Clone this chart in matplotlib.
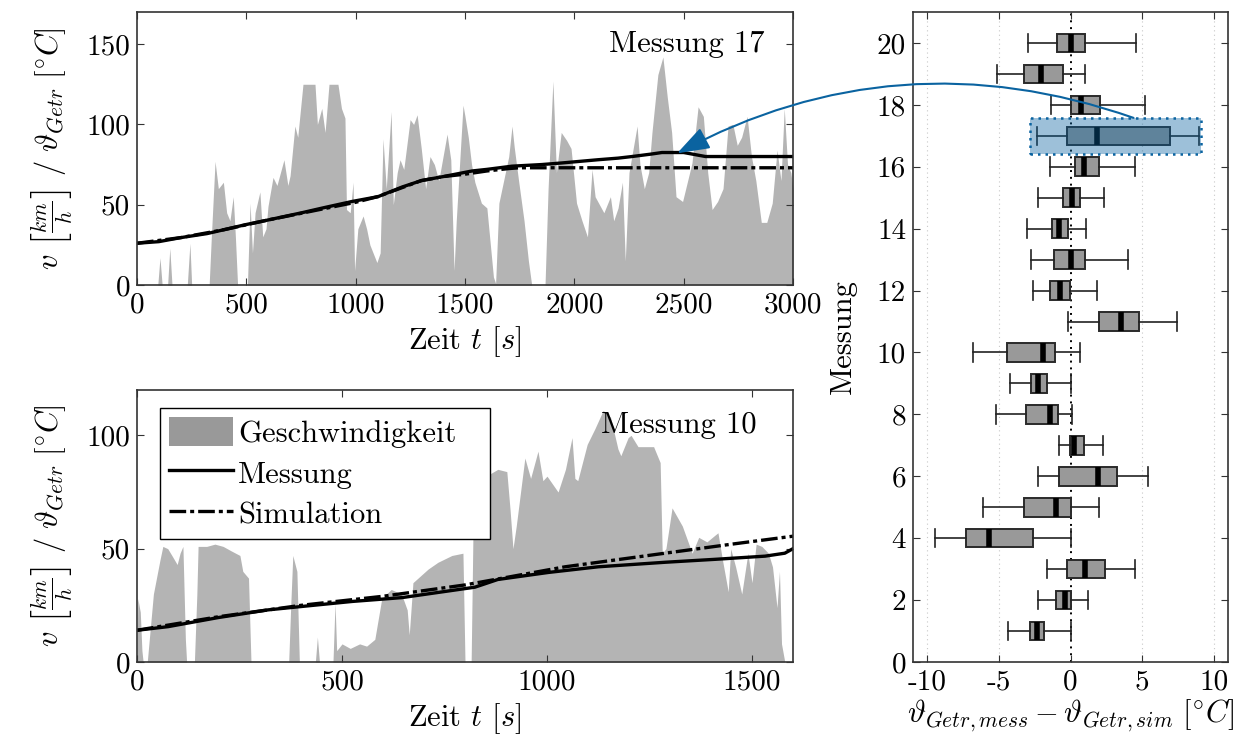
import matplotlib
matplotlib.use("Agg")
import matplotlib.pyplot as plt
from matplotlib.patches import Patch, Rectangle, ConnectionPatch
from matplotlib.lines import Line2D

plt.rcParams["font.family"] = "serif"
plt.rcParams["font.serif"] = ["cmr10"]
plt.rcParams["mathtext.fontset"] = "cm"
plt.rcParams["axes.unicode_minus"] = False
plt.rcParams["font.size"] = 21

# Messung 17: speed profile (km/h) and gearbox temperature
m17_time = [0, 95, 105, 115, 140, 150, 160, 230, 242, 250, 330, 340, 357, 372, 395, 410,
            425, 440, 450, 460, 505, 517, 528, 540, 562, 575, 590, 599, 622, 640, 672, 690,
            700, 722, 735, 759, 814, 825, 845, 860, 878, 919, 935, 951, 958, 975, 988, 995,
            1010, 1034, 1050, 1065, 1097, 1112, 1125, 1140, 1162, 1172, 1190, 1203, 1220,
            1249, 1265, 1281, 1300, 1320, 1340, 1360, 1380, 1418, 1435, 1450, 1460, 1491,
            1500, 1515, 1530, 1545, 1575, 1600, 1630, 1640, 1655, 1700, 1715, 1725, 1745,
            1770, 1790, 1805, 1866, 1880, 1902, 1918, 1940, 1965, 1985, 2010, 2035, 2060,
            2081, 2095, 2115, 2135, 2165, 2180, 2200, 2220, 2233, 2250, 2287, 2300, 2320,
            2340, 2355, 2382, 2405, 2425, 2445, 2465, 2495, 2538, 2566, 2590, 2610, 2630,
            2655, 2680, 2703, 2725, 2745, 2765, 2790, 2810, 2830, 2855, 2880, 2905, 2927,
            2945, 2960, 2975, 2990, 3000]
m17_speed = [0, 0, 17, 0, 0, 23, 0, 0, 26, 0, 0, 30, 77, 60, 64, 45,
             40, 55, 30, 0, 0, 51, 20, 45, 58, 30, 35, 49, 67, 62, 78, 62,
             68, 99, 92, 125, 125, 100, 110, 95, 125, 125, 110, 104, 47, 45, 64, 9,
             35, 43, 35, 25, 14, 20, 91, 60, 108, 50, 70, 78, 72,
             103, 100, 106, 85, 60, 80, 75, 65, 94, 78, 9, 40, 112,
             105, 92, 75, 64, 51, 48, 5, 1, 51, 80, 99, 86, 65,
             40, 15, 0, 0, 60, 127, 70, 95, 90, 85, 51, 40, 30,
             72, 55, 50, 45, 55, 40, 48, 64, 15, 70, 99, 75, 60,
             70, 95, 131, 142, 117, 95, 55, 52, 76, 111, 105, 70, 47,
             52, 60, 99, 100, 87, 92, 105, 80, 65, 39, 39, 51, 84,
             65, 110, 75, 70, 60]
m17_mess_time = [0, 100, 200, 320, 400, 494, 600, 754, 850, 983, 1102, 1212, 1300, 1400,
                 1532, 1600, 1715, 1850, 1943, 2108, 2200, 2264, 2350, 2401, 2500, 2560,
                 2600, 3000]
m17_mess_temp = [26, 27, 29.5, 32, 34.5, 37.5, 40.5, 45, 48, 52, 55, 61, 65, 67.5,
                 71, 72, 74, 75, 76, 78, 79, 80, 81.5, 82.5, 82.5, 81, 80, 80]
m17_sim_time = [0, 200, 400, 600, 800, 1000, 1100, 1200, 1300, 1400, 1500, 1600, 1700,
                1750, 3000]
m17_sim_temp = [26, 29.5, 34.5, 40.5, 46, 51.5, 55, 60, 65, 67.5, 69, 71, 72.5, 73, 73]

# Messung 10
m10_time = [0, 2, 8, 12, 15, 25, 40, 56, 63, 75, 85, 98, 105, 112, 118, 121, 140, 146,
            149, 170, 190, 210, 230, 251, 258, 272, 278, 370, 375, 380, 390, 396, 435,
            440, 445, 478, 483, 487, 500, 520, 543, 560, 580, 597, 620, 645, 659, 664,
            673, 710, 734, 768, 795, 800, 815, 820, 840, 861, 880, 902, 910, 917, 925,
            946, 960, 978, 990, 1000, 1027, 1045, 1061, 1068, 1075, 1098, 1117, 1137,
            1155, 1173, 1180, 1198, 1205, 1222, 1260, 1276, 1281, 1290, 1305, 1330, 1354,
            1370, 1390, 1410, 1417, 1428, 1442, 1448, 1460, 1475, 1490, 1500, 1510, 1524,
            1540, 1550, 1561, 1567, 1572, 1580, 1600]
m10_speed = [0, 28, 22, 5, 0, 0, 30, 45, 51, 50, 47, 43, 48, 51, 10, 0, 0, 30,
             51, 51, 52, 51, 49, 47, 40, 37, 0, 0, 25, 47, 40, 0, 0,
             11, 0, 0, 26, 5, 8, 6, 8, 7, 10, 28, 32, 30, 23, 12,
             35, 41, 44, 47, 48, 0, 0, 64, 78, 83, 85, 84, 67, 50, 60,
             90, 81, 93, 80, 82, 75, 85, 99, 81, 80, 96, 103, 111,
             108, 94, 91, 99, 100, 95, 95, 88, 48, 50, 68, 60, 48,
             55, 53, 56, 57, 45, 31, 50, 42, 30, 48, 35, 52, 51,
             48, 42, 24, 40, 8, 0, 0]
m10_mess_time = [0, 76, 198, 320, 402, 524, 646, 824, 880, 1003, 1125, 1288, 1410,
                 1532, 1580, 1600]
m10_mess_temp = [14, 15.6, 19.6, 23, 24.5, 26.7, 28.4, 33, 36.4, 39.5, 42, 44, 45.3,
                 46.7, 48, 50]
m10_sim_time = [0, 200, 400, 600, 800, 1044, 1288, 1451, 1600]
m10_sim_temp = [14, 20, 25, 29, 34, 42, 48, 52, 55.5]

# Abweichung Messung - Simulation je Messung (Boxplot-Kennwerte)
messungen = list(range(1, 21))
wlo = [-4.35, -2.29, -1.62, -9.49, -6.09, -2.29, -0.83, -5.19, -4.24, -6.8,
       -0.19, -2.59, -2.78, -3.03, -2.25, -1.41, -2.34, -1.37, -5.12, -2.94]
q1 = [-2.85, -1.02, -0.25, -7.29, -3.22, -0.81, -0.05, -3.08, -2.75, -4.42,
      1.99, -1.46, -1.16, -1.32, -0.53, 0.3, -0.21, 0.0, -3.22, -0.95]
med = [-2.34, -0.39, 1.04, -5.69, -1.0, 1.92, 0.25, -1.44, -2.27, -1.94,
       3.5, -0.72, 0.0, -0.81, 0.09, 0.95, 1.83, 0.74, -2.04, 0.0]
q3 = [-1.88, 0.02, 2.38, -2.62, 0.0, 3.22, 0.93, -0.88, -1.67, -1.11,
      4.81, -0.05, 1.0, -0.16, 0.69, 1.99, 6.97, 2.04, -0.53, 1.0]
whi = [0.0, 1.25, 4.51, 0.0, 1.99, 5.42, 2.27, 0.07, 0.0, 0.67,
       7.45, 1.85, 4.0, 1.06, 2.34, 4.49, 9.0, 5.19, 1.0, 4.6]

blue = "#0a63a0"
area_col = "#b4b4b4"
spine_col = "#333333"
sim_ls = (0, (5, 1.2, 1.2, 1.2))
lab_size = 22


def style_axes(ax):
    for s in ax.spines.values():
        s.set_color(spine_col)
        s.set_linewidth(1.2)
    ax.tick_params(direction="in", top=True, right=True, length=5,
                   color=spine_col, labelsize=21, pad=5)


def temp_plot(ax, t, v, tm, vm, ts, vs):
    ax.fill_between(t, 0, v, color=area_col, lw=0)
    ax.plot(tm, vm, color="black", lw=2.4)
    ax.plot(ts, vs, color="black", lw=2.4, linestyle=sim_ls)
    ax.set_xlabel(r"Zeit $t$ $[s]$", fontsize=lab_size, labelpad=4)
    ax.set_ylabel(r"$v\ \left[\frac{km}{h}\right]\ /\ \vartheta_{Getr}\ [^{\circ}C]$",
                  fontsize=lab_size, labelpad=8)
    style_axes(ax)


fig = plt.figure(figsize=(12.43, 7.54), dpi=100)
W, H = 1243.0, 754.0
ax1 = fig.add_axes([137 / W, 1 - 285 / H, 656 / W, 273 / H])
ax2 = fig.add_axes([137 / W, 1 - 662 / H, 656 / W, 272 / H])
ax3 = fig.add_axes([913 / W, 1 - 662 / H, 315 / W, 650 / H])

temp_plot(ax1, m17_time, m17_speed, m17_mess_time, m17_mess_temp, m17_sim_time, m17_sim_temp)
ax1.set_xlim(0, 3000)
ax1.set_ylim(0, 170)
ax1.set_xticks(range(0, 3001, 500))
ax1.set_yticks([0, 50, 100, 150])
ax1.text(0.957, 0.88, "Messung 17", transform=ax1.transAxes, ha="right", va="center",
         fontsize=lab_size)

temp_plot(ax2, m10_time, m10_speed, m10_mess_time, m10_mess_temp, m10_sim_time, m10_sim_temp)
ax2.set_xlim(0, 1600)
ax2.set_ylim(0, 120)
ax2.set_xticks([0, 500, 1000, 1500])
ax2.set_yticks([0, 50, 100])
ax2.text(0.945, 0.87, "Messung 10", transform=ax2.transAxes, ha="right", va="center",
         fontsize=lab_size)
handles = [Patch(facecolor="#999999", edgecolor="none"),
           Line2D([], [], color="black", lw=2.4),
           Line2D([], [], color="black", lw=2.4, linestyle=sim_ls)]
leg = ax2.legend(handles, ["Geschwindigkeit", "Messung", "Simulation"],
                 loc="upper left", bbox_to_anchor=(0.035, 0.0, 0.503, 0.935),
                 mode="expand", borderaxespad=0,
                 fancybox=False, framealpha=1, edgecolor="black", fontsize=lab_size,
                 handlelength=2.1, handletextpad=0.15, labelspacing=0.32, borderpad=0.3,
                 handleheight=1.1)
leg.get_frame().set_linewidth(1.0)

# Boxplots
stats = []
for i in range(len(messungen)):
    stats.append(dict(whislo=wlo[i], q1=q1[i], med=med[i], q3=q3[i], whishi=whi[i],
                      label=str(messungen[i])))
ax3.axvline(0, color="black", lw=1.4, linestyle=(0, (1, 2.5)), zorder=1)
for xg in [-10, -5, 5, 10]:
    ax3.axvline(xg, color="#c8c8c8", lw=0.8, linestyle=(0, (1, 3)), zorder=0)
ax3.bxp(stats, positions=messungen, widths=0.6, capwidths=0.6, orientation="horizontal",
        showfliers=False, patch_artist=True, manage_ticks=False,
        boxprops=dict(facecolor="#999999", edgecolor="#2a2a2a", lw=1.4),
        whiskerprops=dict(color="#222222", lw=1.2),
        capprops=dict(color="#222222", lw=1.2),
        medianprops=dict(color="black", lw=4, solid_capstyle="butt"))
ax3.add_patch(Rectangle((-2.82, 16.42), 11.94, 1.16, facecolor=blue, alpha=0.4,
                        lw=0, zorder=5))
ax3.add_patch(Rectangle((-2.82, 16.42), 11.94, 1.16, facecolor="none", edgecolor=blue,
                        lw=1.8, linestyle=(0, (1, 2)), zorder=6))
ax3.set_xlim(-11, 11)
ax3.set_ylim(0, 21)
ax3.set_xticks([-10, -5, 0, 5, 10])
ax3.set_yticks(range(0, 21, 2))
ax3.set_ylabel("Messung", fontsize=lab_size, labelpad=14)
ax3.set_xlabel(r"$\vartheta_{Getr,mess} - \vartheta_{Getr,sim}\ [^{\circ}C]$",
               fontsize=lab_size, labelpad=2)
style_axes(ax3)

con = ConnectionPatch(xyA=(4.4, 17.58), coordsA=ax3.transData,
                      xyB=(2470, 82), coordsB=ax1.transData,
                      arrowstyle="-|>,head_length=1.0,head_width=0.35",
                      connectionstyle="arc3,rad=0.22", color=blue, lw=1.5,
                      mutation_scale=20, zorder=10)
fig.add_artist(con)

fig.savefig("out.png", dpi=100)
